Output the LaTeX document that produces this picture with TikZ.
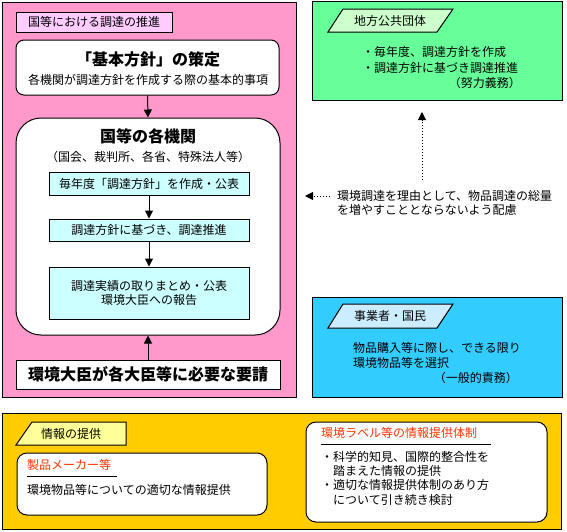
\documentclass[tikz,border=0pt]{standalone}
\usepackage{fontspec}
\setmainfont{Noto Sans CJK JP}
\usetikzlibrary{arrows.meta,positioning}
\definecolor{pinkpanel}{RGB}{255,153,204}
\definecolor{pinktag}{RGB}{255,204,255}
\definecolor{greenpanel}{RGB}{102,255,153}
\definecolor{greentag}{RGB}{204,255,204}
\definecolor{bluepanel}{RGB}{51,204,255}
\definecolor{bluetag}{RGB}{204,236,255}
\definecolor{yellowpanel}{RGB}{255,204,0}
\definecolor{yellowtag}{RGB}{255,255,153}
\definecolor{stepfill}{RGB}{204,255,255}
\definecolor{redtitle}{RGB}{255,51,0}
\newcommand{\bigjp}{\fontsize{16}{19}\selectfont\bfseries}

\begin{document}
\begin{tikzpicture}[
 x=1pt,y=-1pt,
 every node/.style={font=\fontsize{12}{14.5}\selectfont,inner sep=0pt,align=center},
 panel/.style={draw=black,line width=1pt},
 roundbox/.style={draw=black,fill=white,rounded corners=8pt,line width=1pt},
 stepbox/.style={draw=black,fill=stepfill,minimum width=200pt,line width=1pt},
 tagbox/.style={draw=black,line width=1pt},
 arrow/.style={-{Triangle[length=8pt,width=8pt]},line width=1pt},
 dotarrow/.style={arrow,dotted}
]
\useasboundingbox (0,0) rectangle (567,531);
% left panel
\node[panel,fill=pinkpanel,minimum width=294pt,minimum height=395pt] (kuni) at (149,199.5) {};
\node[tagbox,fill=pinktag,minimum width=156pt,minimum height=20pt] (kuniT) at (94,22) {国等における調達の推進};
\node[roundbox,minimum width=263pt,minimum height=55pt] (kihon) at (147.5,67.5) {};
\node (kihonT) at (148,59) {\bigjp「基本方針」の策定};
\node (kihonS) at (148,80) {各機関が調達方針を作成する際の基本的事項};
\node[roundbox,rounded corners=25pt,minimum width=264pt,minimum height=217pt] (kikan) at (148,226.5) {};
\node (kikanT) at (148,136) {\bigjp 国等の各機関};
\node (kikanS) at (148,157) {（国会、裁判所、各省、特殊法人等）};
\node[stepbox,minimum height=23pt] (s1) at (149,183.5) {毎年度「調達方針」を作成・公表};
\node[stepbox,minimum height=22pt] (s2) at (149,230) {調達方針に基づき、調達推進};
\node[stepbox,minimum height=52pt] (s3) at (149,293) {調達実績の取りまとめ・公表\\環境大臣への報告};
\node[panel,fill=white,minimum width=264pt,minimum height=29pt] (youkyu) at (148,374.5) {\bigjp 環境大臣が各大臣等に必要な要請};
\draw[arrow] (kihon.south) -- (kikan.north);
\draw[arrow] (s1) -- (s2);
\draw[arrow] (s2) -- (s3);
\draw[arrow] (youkyu) -- (kikan);
% right panels
\node[panel,fill=greenpanel,minimum width=250pt,minimum height=99pt] (chihou) at (437,51) {};
\draw[tagbox,fill=greentag] (328,32) -- (343,9) -- (453,9) -- (437,32) -- cycle;
\node (chihouT) at (390,20.5) {地方公共団体};
\node[anchor=west] (chihou1) at (362,52) {・毎年度、調達方針を作成};
\node[anchor=west] (chihou2) at (362,68) {・調達方針に基づき調達推進};
\node[anchor=east] (chihou3) at (521,83) {（努力義務）};
\node[anchor=west,align=left] (hairyo) at (337,203) {環境調達を理由として、物品調達の総量\\を増やすこととならないよう配慮};
\coordinate (upFrom) at (422,180);
\coordinate (upTo) at (422,112);
\coordinate (leftFrom) at (330,196);
\coordinate (leftTo) at (305,196);
\draw[dotarrow] (upFrom) -- (upTo);
\draw[dotarrow] (leftFrom) -- (leftTo);
\node[panel,fill=bluepanel,minimum width=250pt,minimum height=100pt] (jigyo) at (437,347) {};
\draw[tagbox,fill=bluetag] (328,328) -- (343,304) -- (453,304) -- (437,328) -- cycle;
\node (jigyoT) at (390,316) {事業者・国民};
\node[anchor=west] (jigyo1) at (353,348) {物品購入等に際し、できる限り};
\node[anchor=west] (jigyo2) at (353,363) {環境物品等を選択};
\node[anchor=east] (jigyo3) at (518,378) {（一般的責務）};
% bottom panel
\node[panel,fill=yellowpanel,minimum width=559pt,minimum height=116pt] (jouhou) at (281.5,471) {};
\draw[tagbox,fill=yellowtag] (16,445) -- (32,422) -- (126,422) -- (126,445) -- cycle;
\node (jouhouT) at (71,433.5) {情報の提供};
\node[roundbox,rounded corners=10pt,minimum width=250pt,minimum height=62pt] (maker) at (142,484) {};
\node[anchor=west,text=redtitle] (makerT) at (27,465) {製品メーカー等};
\draw[line width=1pt] (27,476) -- (117,476);
\node[anchor=west] (maker1) at (27,490) {環境物品等についての適切な情報提供};
\node[roundbox,rounded corners=10pt,minimum width=241pt,minimum height=100pt] (label) at (426.5,472) {};
\node[anchor=west,text=redtitle] (labelT) at (321,433) {環境ラベル等の情報提供体制};
\draw[line width=1pt] (321,444) -- (491,444);
\node[anchor=west] (label1) at (321,457) {・科学的知見、国際的整合性を};
\node[anchor=west] (label2) at (333,471) {踏まえた情報の提供};
\node[anchor=west] (label3) at (321,485) {・適切な情報提供体制のあり方};
\node[anchor=west] (label4) at (333,500) {について引き続き検討};
\end{tikzpicture}
\end{document}
